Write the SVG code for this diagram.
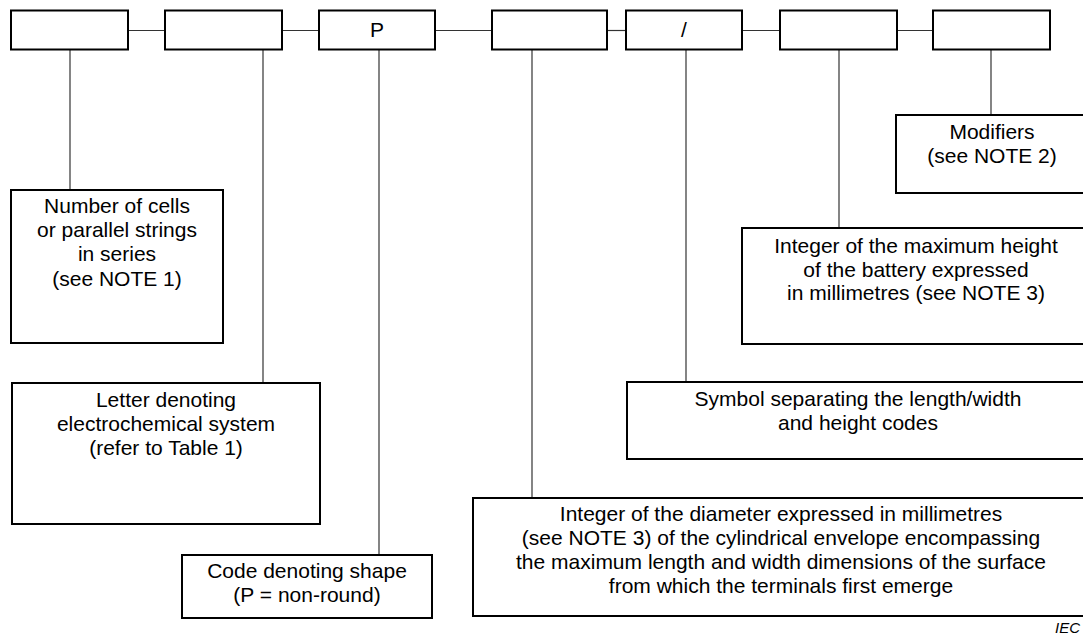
<svg xmlns="http://www.w3.org/2000/svg" width="1083" height="637" viewBox="0 0 1083 637">
<style>
.box{fill:#fff;stroke:#000;stroke-width:2}
.ln{stroke:#333;stroke-width:1.2;fill:none}
.t{font-family:"Liberation Sans",Arial,sans-serif;font-size:21px;fill:#000;text-anchor:middle}
.iec{font-family:"Liberation Sans",Arial,sans-serif;font-size:15px;font-style:italic;fill:#000;text-anchor:end}
</style>
<rect width="1083" height="637" fill="#fff"/>
<g id="connectors">
<line class="ln" x1="128" y1="30.5" x2="165" y2="30.5"/>
<line class="ln" x1="282" y1="30.5" x2="319" y2="30.5"/>
<line class="ln" x1="435" y1="30.5" x2="492" y2="30.5"/>
<line class="ln" x1="607" y1="30.5" x2="626" y2="30.5"/>
<line class="ln" x1="742" y1="30.5" x2="780" y2="30.5"/>
<line class="ln" x1="897" y1="30.5" x2="933" y2="30.5"/>
<line class="ln" x1="70" y1="50" x2="70" y2="190"/>
<line class="ln" x1="263" y1="50" x2="263" y2="383"/>
<line class="ln" x1="379" y1="50" x2="379" y2="555"/>
<line class="ln" x1="532" y1="50" x2="532" y2="498"/>
<line class="ln" x1="686" y1="50" x2="686" y2="382"/>
<line class="ln" x1="839" y1="50" x2="839" y2="228"/>
<line class="ln" x1="991" y1="50" x2="991" y2="115"/>
</g>
<g id="code1"><rect class="box" x="11" y="10.5" width="117" height="39"/></g>
<g id="code2"><rect class="box" x="165" y="10.5" width="117" height="39"/></g>
<g id="code3"><rect class="box" x="319" y="10.5" width="116" height="39"/><text class="t" x="377" y="37">P</text></g>
<g id="code4"><rect class="box" x="492" y="10.5" width="115" height="39"/></g>
<g id="code5"><rect class="box" x="626" y="10.5" width="116" height="39"/><text class="t" x="684" y="37">/</text></g>
<g id="code6"><rect class="box" x="780" y="10.5" width="117" height="39"/></g>
<g id="code7"><rect class="box" x="933" y="10.5" width="117" height="39"/></g>
<g id="number">
<rect class="box" x="11" y="190" width="212" height="153"/>
<text class="t" x="117" y="213">Number of cells</text>
<text class="t" x="117" y="237">or parallel strings</text>
<text class="t" x="117" y="261">in series</text>
<text class="t" x="117" y="286">(see NOTE 1)</text>
</g>
<g id="letter">
<rect class="box" x="12" y="383" width="308" height="141"/>
<text class="t" x="166" y="407">Letter denoting</text>
<text class="t" x="166" y="431">electrochemical system</text>
<text class="t" x="166" y="455">(refer to Table 1)</text>
</g>
<g id="shape">
<rect class="box" x="182" y="555" width="250" height="63"/>
<text class="t" x="307" y="578">Code denoting shape</text>
<text class="t" x="307" y="602">(P = non-round)</text>
</g>
<g id="diameter">
<rect class="box" x="473" y="498" width="616" height="118"/>
<text class="t" x="781" y="521">Integer of the diameter expressed in millimetres</text>
<text class="t" x="781" y="545">(see NOTE 3) of the cylindrical envelope encompassing</text>
<text class="t" x="781" y="569">the maximum length and width dimensions of the surface</text>
<text class="t" x="781" y="593">from which the terminals first emerge</text>
</g>
<g id="symbol">
<rect class="box" x="627" y="382" width="462" height="77"/>
<text class="t" x="858" y="406">Symbol separating the length/width</text>
<text class="t" x="858" y="430">and height codes</text>
</g>
<g id="height">
<rect class="box" x="742" y="228" width="347" height="116"/>
<text class="t" x="916" y="253">Integer of the maximum height</text>
<text class="t" x="916" y="277">of the battery expressed</text>
<text class="t" x="916" y="300">in millimetres (see NOTE 3)</text>
</g>
<g id="modifiers">
<rect class="box" x="896" y="115" width="193" height="78"/>
<text class="t" x="992" y="139">Modifiers</text>
<text class="t" x="992" y="163">(see NOTE 2)</text>
</g>
<text class="iec" x="1080" y="633">IEC</text>
</svg>
